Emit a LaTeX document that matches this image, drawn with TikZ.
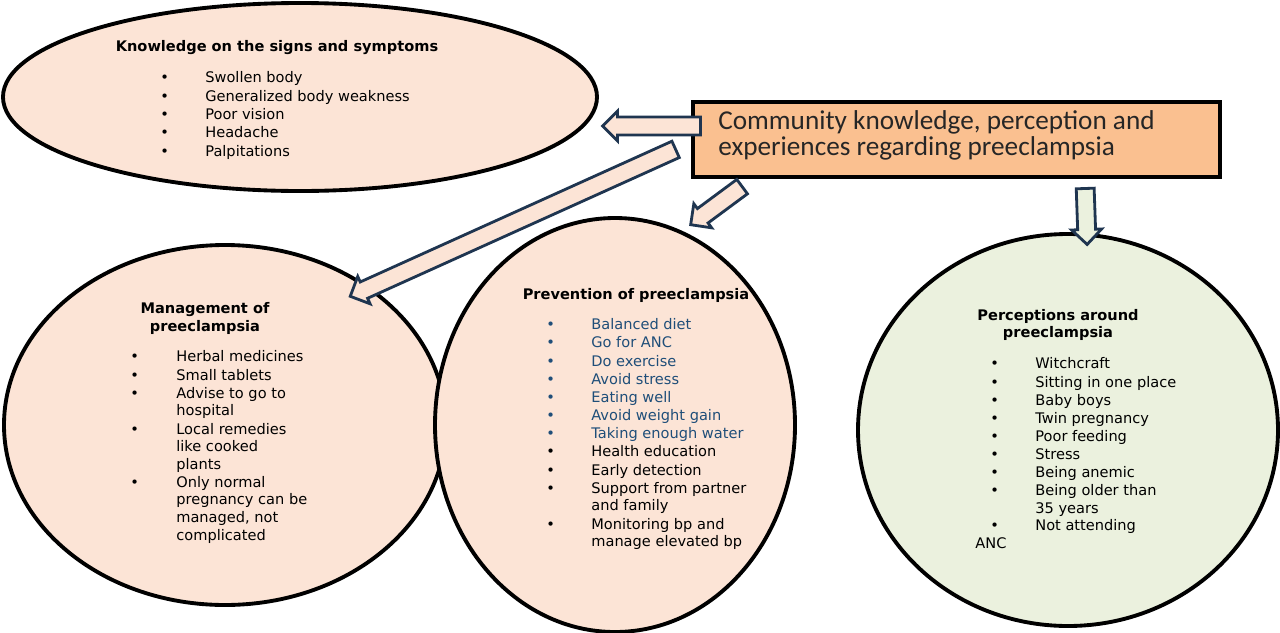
\documentclass[tikz,border=0pt]{standalone}
\usepackage{fontspec}
\setmainfont{DejaVu Sans}
\newfontfamily\titlefont{Carlito}
\usetikzlibrary{shapes.arrows}
\definecolor{peach}{HTML}{FCE4D6}
\definecolor{boxor}{HTML}{FAC090}
\definecolor{lgreen}{HTML}{EBF1DE}
\definecolor{navy}{HTML}{1F3550}
\definecolor{tblue}{HTML}{1F4E79}
\tikzset{
 ell/.style={draw=black,line width=2.2pt,fill=peach},
 barrow/.style={single arrow,draw=navy,line width=1.6pt,fill=peach,minimum width=0.6cm,inner sep=0.12cm,single arrow head extend=0.1cm,single arrow tip angle=90},
 txt/.style={anchor=base west,inner sep=0pt,font=\fontsize{8.3}{10}\selectfont},
 ttl/.style={anchor=base,inner sep=0pt,font=\fontsize{8.3}{10}\selectfont\bfseries,align=center},
}
\newcommand{\bitem}[4][black]{\node[txt,text=#1] at (#2) {#4}; \node[txt,text=#1] at (#3) {\textbullet};}
\begin{document}
\begin{tikzpicture}[x=0.02cm,y=-0.02cm]
\useasboundingbox (0,0) rectangle (1280,632);
\fill[white] (0,0) rectangle (1280,632);
% ellipses
\draw[ell] (300,97) ellipse [x radius=297,y radius=94] node (e1) {};
\draw[ell] (225,425) ellipse [x radius=221,y radius=180] node (e2) {};
\draw[ell] (615,425) ellipse [x radius=180,y radius=207] node (e3) {};
\draw[ell,fill=lgreen] (1068,430) ellipse [x radius=210,y radius=196] node (e4) {};
% box
\node[draw=black,line width=2.5pt,fill=boxor,minimum width=527*0.02cm,minimum height=75*0.02cm,inner sep=0pt] (box) at (956.5,139.5) {};
\node[anchor=north west,inner sep=0pt,align=left,font=\titlefont\fontsize{15.5}{14.8}\selectfont,text=black!85] (bt) at (718,110) {Community knowledge, perception and\\experiences regarding preeclampsia};
% arrows
\node[barrow,minimum height=98*0.02cm,rotate=180] (a1) at (656,126) {};
\node[barrow,minimum height=357*0.02cm,rotate=204.3] (a2) at (517,221) {};
\node[barrow,minimum height=64*0.02cm,rotate=216.5] (a3) at (720,203) {};
\node[barrow,fill=lgreen,minimum height=56*0.02cm,rotate=-88] (a4) at (1086,212) {};
% ellipse 1
\node[ttl] (t1) at (277,51) {Knowledge on the signs and symptoms};
\bitem{205,82}{160,82}{Swollen body}
\bitem{205,101}{160,101}{Generalized body weakness}
\bitem{205,119}{160,119}{Poor vision}
\bitem{205,137}{160,137}{Headache}
\bitem{205,156}{160,156}{Palpitations}
% ellipse 2
\node[ttl] (t2) at (205,313) {Management of};
\node[ttl] (t2b) at (205,331) {preeclampsia};
\bitem{176,361}{130,361}{Herbal medicines}
\bitem{176,380}{130,380}{Small tablets}
\bitem{176,398}{130,398}{Advise to go to}
\node[txt] at (176,415) {hospital};
\bitem{176,434}{130,434}{Local remedies}
\node[txt] at (176,451) {like cooked};
\node[txt] at (176,469) {plants};
\bitem{176,487}{130,487}{Only normal}
\node[txt] at (176,504) {pregnancy can be};
\node[txt] at (176,522) {managed, not};
\node[txt] at (176,540) {complicated};
% ellipse 3
\node[ttl] (t3) at (636,299) {Prevention of preeclampsia};
\bitem[tblue]{591,329}{546,329}{Balanced diet}
\bitem[tblue]{591,347}{546,347}{Go for ANC}
\bitem[tblue]{591,366}{546,366}{Do exercise}
\bitem[tblue]{591,384}{546,384}{Avoid stress}
\bitem[tblue]{591,402}{546,402}{Eating well}
\bitem[tblue]{591,420}{546,420}{Avoid weight gain}
\bitem[tblue]{591,438}{546,438}{Taking enough water}
\bitem{591,456}{546,456}{Health education}
\bitem{591,475}{546,475}{Early detection}
\bitem{591,493}{546,493}{Support from partner}
\node[txt] at (591,510) {and family};
\bitem{591,529}{546,529}{Monitoring bp and}
\node[txt] at (591,546) {manage elevated bp};
% ellipse 4
\node[ttl] (t4) at (1058,320) {Perceptions around};
\node[ttl] (t4b) at (1058,337) {preeclampsia};
\bitem{1035,368}{990,368}{Witchcraft}
\bitem{1035,387}{990,387}{Sitting in one place}
\bitem{1035,405}{990,405}{Baby boys}
\bitem{1035,423}{990,423}{Twin pregnancy}
\bitem{1035,441}{990,441}{Poor feeding}
\bitem{1035,459}{990,459}{Stress}
\bitem{1035,477}{990,477}{Being anemic}
\bitem{1035,495}{990,495}{Being older than}
\node[txt] at (1035,513) {35 years};
\bitem{1035,530}{990,530}{Not attending}
\node[txt] at (975,548) {ANC};
\end{tikzpicture}
\end{document}
